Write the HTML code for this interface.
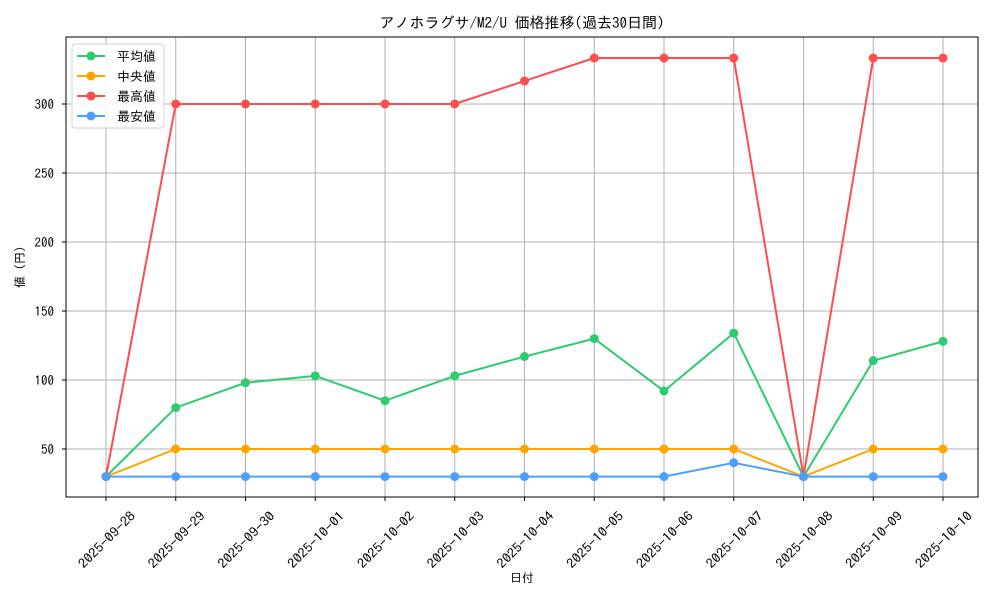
<!DOCTYPE html>
<html><head><meta charset="utf-8"><style>
body{margin:0;background:#fff}
svg text{font-family:"IPAGothic","Liberation Sans","Noto Sans CJK JP",sans-serif;fill:#000}
</style></head><body>
<svg id="c" width="1000" height="600" xmlns="http://www.w3.org/2000/svg"></svg>
<script>
const categories=["2025-09-28","2025-09-29","2025-09-30","2025-10-01","2025-10-02","2025-10-03","2025-10-04","2025-10-05","2025-10-06","2025-10-07","2025-10-08","2025-10-09","2025-10-10"];
const avgValues=[30,80,98,103,85,103,117,130,92,134,30,114,128];
const medianValues=[30,50,50,50,50,50,50,50,50,50,30,50,50];
const maxValues=[30,300,300,300,300,300,316.7,333.3,333.3,333.3,30,333.3,333.3];
const minValues=[30,30,30,30,30,30,30,30,30,40,30,30,30];
const yTicks=[50,100,150,200,250,300];
const seriesNames=["平均値","中央値","最高値","最安値"];
const seriesColors=["#2ecc71","#ffa500","#ff4d4d","#4d9fff"];

const svg=document.getElementById('c');
const NS='http://www.w3.org/2000/svg';
const L=66,R=978,T=37,B=497;
const x=i=>106+i*(943-106)/(categories.length-1);
const y=v=>518-v*1.38;
function mk(tag,attrs,parent){const e=document.createElementNS(NS,tag);for(const k in attrs)e.setAttribute(k,attrs[k]);(parent||svg).appendChild(e);return e;}

let t=mk('text',{x:(L+R)/2,y:28,'text-anchor':'middle','font-size':15});
t.textContent='アノホラグサ/M2/U 価格推移(過去30日間)';



categories.forEach((c,i)=>{
  const g=mk('line',{x1:x(i),x2:x(i),y1:T,y2:B,stroke:'#b0b0b0','stroke-width':1});
  
  
  mk('line',{x1:x(i),x2:x(i),y1:B,y2:B+4,stroke:'#000'});
  const lb=mk('text',{x:0,y:0,'text-anchor':'middle','font-size':13,textLength:74,lengthAdjust:'spacingAndGlyphs',transform:`translate(${x(i)+4},${B+46}) rotate(-45)`});
  lb.textContent=c;
  
  
});
yTicks.forEach(v=>{
  const g=mk('line',{x1:L,x2:R,y1:y(v),y2:y(v),stroke:'#b0b0b0','stroke-width':1});
  
  
  mk('line',{x1:L-4,x2:L,y1:y(v),y2:y(v),stroke:'#000'});
  const lb=mk('text',{x:L-12,y:y(v)+5,'text-anchor':'end','font-size':13});
  lb.textContent=v;
  
  
});
const fr=mk('rect',{x:L,y:T,width:R-L,height:B-T,fill:'none',stroke:'#000','stroke-width':1});



let xt=mk('text',{x:(L+R)/2,y:582,'text-anchor':'middle','font-size':12});
xt.textContent='日付';


let yt=mk('text',{x:0,y:0,'text-anchor':'middle','font-size':12,transform:`translate(24,${(T+B)/2}) rotate(-90)`});
yt.textContent='値 (円)';



const all=[avgValues,medianValues,maxValues,minValues];
[0,1,2,3].forEach(s=>{
  const vals=all[s];
  const pl=mk('polyline',{points:vals.map((v,i)=>x(i)+','+y(v)).join(' '),fill:'none',stroke:seriesColors[s],'stroke-width':2});
  
  
  vals.forEach((v,i)=>{
    const p=mk('circle',{cx:x(i),cy:y(v),r:4.5,fill:seriesColors[s]});
    
    
  });
});

const lg=mk('g',{});


mk('rect',{x:72,y:44,width:92,height:84,rx:3,fill:'#fff','fill-opacity':0.85,stroke:'#d0d0d0'},lg);
seriesNames.forEach((n,i)=>{
  const yy=56+i*20;
  mk('line',{x1:77,x2:105,y1:yy,y2:yy,stroke:seriesColors[i],'stroke-width':2},lg);
  mk('circle',{cx:91,cy:yy,r:4.5,fill:seriesColors[i]},lg);
  const tx=mk('text',{x:117,y:yy+5,'font-size':13},lg);
  tx.textContent=n;
  
  
});
</script>
</body></html>
